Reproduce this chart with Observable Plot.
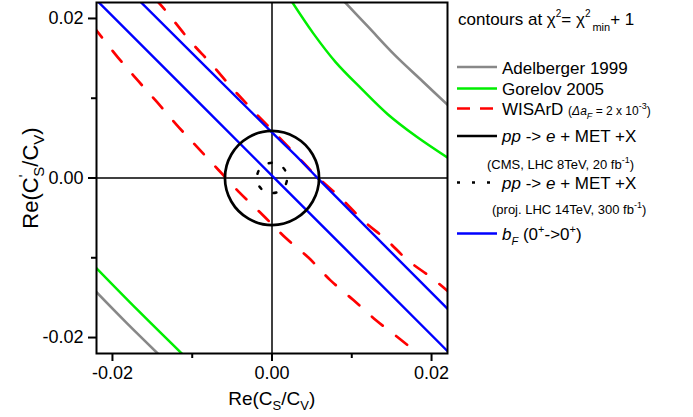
<!DOCTYPE html>
<html><head><meta charset="utf-8">
<script src="https://cdn.jsdelivr.net/npm/d3@7"></script>
<script src="https://cdn.jsdelivr.net/npm/@observablehq/plot@0.6"></script>
<style>body{margin:0;background:#fff} #chart{width:693px;height:417px}</style>
</head><body><div id="chart"></div>
<script>
// ---- data ----
const xTicks = [-0.02, 0, 0.02];
const yTicks = [-0.02, 0, 0.02];
const minorTicks = [-0.01, 0.01];
const domain = [-0.022, 0.022];

const adelbergerUpper = [[0.0088,0.0224],[0.0121,0.0189],[0.0154,0.0154],[0.0189,0.0121],[0.0224,0.0088]];
const adelbergerLower = [[-0.0226,-0.0137],[-0.0182,-0.0182],[-0.0137,-0.0226]];
const gorelovUpper = [[0.0023,0.0224],[0.0052,0.0181],[0.0080,0.0145],[0.0112,0.0112],[0.0145,0.0080],[0.0181,0.0052],[0.0224,0.0023]];
const gorelovLower = [[-0.0226,-0.0107],[-0.0167,-0.0167],[-0.0107,-0.0226]];
const wisardUpper = [[-0.0146,0.0224],[-0.0136,0.0213],[-0.0102,0.0171],[-0.0077,0.0144],[-0.0052,0.0115],[-0.0026,0.0087],[-0.0002,0.0062],[0.0029,0.0030],[0.0055,0.0003],[0.0085,-0.0024],[0.0114,-0.0053],[0.0144,-0.0078],[0.0170,-0.0103],[0.0200,-0.0125],[0.0224,-0.0145]];
const wisardLower = [[-0.0224,0.0190],[-0.0193,0.0151],[-0.0168,0.0122],[-0.0144,0.0095],[-0.0119,0.0066],[-0.0094,0.0039],[-0.0067,0.0010],[-0.0040,-0.0019],[-0.0011,-0.0047],[0.0017,-0.0075],[0.0046,-0.0100],[0.0073,-0.0128],[0.0102,-0.0153],[0.0130,-0.0178],[0.0158,-0.0200],[0.0188,-0.0224]];
const bFUpper = [[-0.0168,0.0224],[-0.0002,0.0059],[0.0029,0.0029],[0.0059,-0.0002],[0.0224,-0.0168]];
const bFLower = [[-0.0222,0.0225],[0.00015,0.00015],[0.0225,-0.0222]];
const cmsContour = [[0.0059,0],[0.0051,0.00295],[0.00295,0.0051],[0,0.0059],[-0.00295,0.0051],[-0.0051,0.00295],[-0.0059,0],[-0.0051,-0.00295],[-0.00295,-0.0051],[0,-0.0059],[0.00295,-0.0051],[0.0051,-0.00295]];
const lhc14Contour = [[0.0019,0],[0.00165,0.00095],[0.00095,0.00165],[0,0.0019],[-0.00095,0.00165],[-0.00165,0.00095],[-0.0019,0],[-0.00165,-0.00095],[-0.00095,-0.00165],[0,-0.0019],[0.00095,-0.00165],[0.00165,-0.00095]];

const colors = {adel: "#888888", gore: "#00ee00", wis: "#ff0000", cms: "#000000", bf: "#0000ff"};

// ---- chart ----
const L = (data, stroke, w, extra = {}) => Plot.line(data, {x: d => d[0], y: d => d[1], stroke, strokeWidth: w, curve: "catmull-rom", clip: true, ...extra});

const plot = Plot.plot({
  width: 693, height: 417,
  marginLeft: 96, marginRight: 246, marginTop: 2, marginBottom: 64,
  style: {fontFamily: "'Liberation Sans', Arial, sans-serif", fontSize: "18px", color: "black", background: "white"},
  x: {domain},
  y: {domain},
  marks: [
    Plot.ruleX([0], {stroke: "black", strokeWidth: 1.5}),
    Plot.ruleY([0], {stroke: "black", strokeWidth: 1.5}),
    L(adelbergerUpper, colors.adel, 2.6),
    L(adelbergerLower, colors.adel, 2.6),
    L(gorelovUpper, colors.gore, 2.5),
    L(gorelovLower, colors.gore, 2.5),
    L(wisardUpper, colors.wis, 2.7, {strokeDasharray: "14,17"}),
    L(wisardLower, colors.wis, 2.7, {strokeDasharray: "14,17"}),
    L(bFUpper, colors.bf, 2.4),
    L(bFLower, colors.bf, 2.4),
    L(cmsContour, colors.cms, 2.7, {curve: "catmull-rom-closed"}),
    L(lhc14Contour, colors.cms, 2.5, {curve: "catmull-rom-closed", strokeDasharray: "3,13.2"}),
    Plot.axisX(xTicks, {tickSize: 8, tickPadding: 5, strokeWidth: 2, tickFormat: d => d.toFixed(2), label: null}),
    Plot.axisX(minorTicks, {tickSize: 5, strokeWidth: 2, tickFormat: () => "", label: null}),
    Plot.axisY(yTicks, {tickSize: 8, tickPadding: 5, strokeWidth: 2, tickFormat: d => d.toFixed(2), label: null}),
    Plot.axisY(minorTicks, {tickSize: 5, strokeWidth: 2, tickFormat: () => "", label: null}),
    Plot.frame({stroke: "black", strokeWidth: 2})
  ]
});
document.getElementById("chart").appendChild(plot);

// ---- rich text labels & legend ----
const svg = d3.select(plot);
const g = svg.append("g").attr("font-family", "'Liberation Sans', Arial, sans-serif").attr("fill", "black").attr("text-anchor", "start");
function rich(x, y, size, parts, attrs = {}) {
  const t = g.append("text").attr("x", x).attr("y", y).attr("font-size", size).attr("text-anchor", "start").attr("style", "white-space:pre");
  for (const [k, v] of Object.entries(attrs)) t.attr(k, v);
  let shift = 0;
  for (const p of parts) {
    const s = typeof p === "string" ? {t: p} : p;
    const target = s.dy || 0;
    const ts = t.append("tspan").text(s.t).attr("dy", target - shift);
    shift = target;
    if (s.size) ts.attr("font-size", s.size);
    if (s.italic) ts.attr("font-style", "italic");
    if (s.dx) ts.attr("dx", s.dx);
  }
  return t;
}
// axis titles
rich(271.7, 405, 19, ["Re(C", {t: "S", dy: 5, size: 13}, {t: "/C"}, {t: "V", dy: 5, size: 13}, {t: ")"}], {"text-anchor": "middle"});
rich(0, 0, 22, ["Re(C", {t: "'", dy: -9, size: 14}, {t: "S", dy: 6, size: 15, dx: -2}, {t: "/C"}, {t: "V", dy: 6, size: 15}, {t: ")"}], {"text-anchor": "middle", transform: "translate(38,178) rotate(-90)"});

// legend
rich(458, 25, 17, ["contours at χ", {t: "2", dy: -8, size: 10}, {t: "= χ"}, {t: "2", dy: -8, size: 10}, {t: "min", dy: 6, size: 11, dx: 2}, {t: "+ 1"}]);
const sx0 = 457, sx1 = 497, tx = 502;
const leg = [
  {y: 67, color: colors.adel, w: 2.6},
  {y: 88.5, color: colors.gore, w: 2.5},
  {y: 108.5, color: colors.wis, w: 2.7, dash: "13,10"},
  {y: 136, color: colors.cms, w: 2.7},
  {y: 182.5, color: colors.cms, w: 2.7, dash: "3,12"},
  {y: 233.5, color: colors.bf, w: 2.6}
];
for (const r of leg) {
  g.append("line").attr("x1", sx0).attr("x2", sx1).attr("y1", r.y).attr("y2", r.y)
    .attr("stroke", r.color).attr("stroke-width", r.w).attr("stroke-dasharray", r.dash || null);
}
rich(tx, 73.5, 17, ["Adelberger 1999"]);
rich(tx, 94.5, 17, ["Gorelov 2005"]);
rich(tx, 115, 17, ["WISArD ", {t: "(", size: 12}, {t: "Δa", size: 12, italic: true}, {t: "F", size: 9, italic: true, dy: 4}, {t: " = 2 x 10", size: 12}, {t: "-3", size: 9, dy: -6}, {t: ")", size: 12}]);
rich(tx, 142, 17, [{t: "pp", italic: true}, " -> ", {t: "e", italic: true}, " + MET +X"]);
rich(487, 168.5, 13, ["(CMS, LHC 8TeV, 20 fb", {t: "-1", size: 9, dy: -6}, {t: ")"}]);
rich(tx, 188.5, 17, [{t: "pp", italic: true}, " -> ", {t: "e", italic: true}, " + MET +X"]);
rich(492, 213.5, 13, ["(proj. LHC 14TeV, 300 fb", {t: "-1", size: 9, dy: -6}, {t: ")"}]);
rich(tx, 240, 17, [{t: "b", italic: true}, {t: "F", italic: true, size: 11, dy: 5}, {t: " (0"}, {t: "+", size: 11, dy: -7}, {t: "->0"}, {t: "+", size: 11, dy: -7}, {t: ")"}]);
</script>
</body></html>
